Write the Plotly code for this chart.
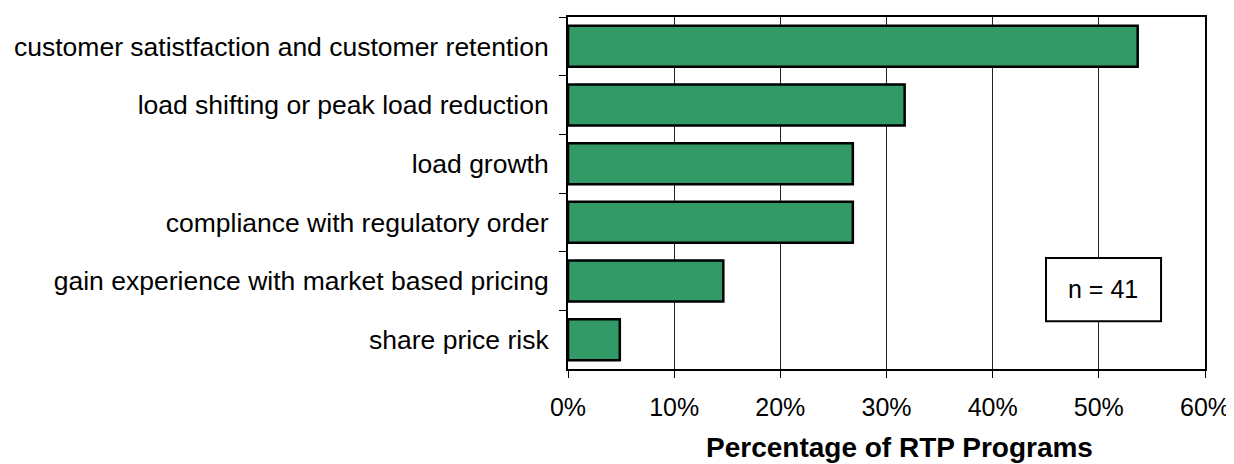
import plotly.graph_objects as go

categories = [
    "customer satistfaction and customer retention",
    "load shifting or peak load reduction",
    "load growth",
    "compliance with regulatory order",
    "gain experience with market based pricing",
    "share price risk",
]
percent_values = [53.66, 31.71, 26.83, 26.83, 14.63, 4.88]
x_tick_values = [0, 10, 20, 30, 40, 50, 60]
x_tick_labels = ["0%", "10%", "20%", "30%", "40%", "50%", "60%"]
axis_title = "Percentage of RTP Programs"
note_text = "n = 41"

FONT = "Liberation Sans, Arial, sans-serif"

fig = go.Figure()
fig.add_trace(go.Bar(
    x=percent_values,
    y=categories,
    orientation="h",
    marker=dict(color="#339966", line=dict(color="black", width=2.5)),
    showlegend=False,
))

# page body has an 8px margin; size the figure so it ends at the window edge
fig.update_layout(
    width=1226, height=456,
    margin=dict(l=560, r=29, t=9, b=95),
    paper_bgcolor="white", plot_bgcolor="white",
    bargap=0.3,
    font=dict(family=FONT, size=25, color="black"),
)

fig.update_xaxes(
    range=[0, 60],
    tickvals=x_tick_values, ticktext=x_tick_labels,
    showgrid=True, gridcolor="#222", gridwidth=1,
    showline=True, linecolor="black", linewidth=2, mirror=True,
    ticks="outside", ticklen=7, tickcolor="black", tickwidth=1,
    ticklabelstandoff=8,
    zeroline=False, automargin=False,
    tickfont=dict(size=25),
)
fig.update_yaxes(
    categoryorder="array", categoryarray=categories,
    autorange="reversed",
    tickson="boundaries",
    showgrid=False,
    showline=True, linecolor="black", linewidth=2, mirror=True,
    ticks="outside", ticklen=7, tickcolor="black", tickwidth=1,
    ticklabelstandoff=12, automargin=False,
    tickfont=dict(size=26.5),
)

# n = 41 box
fig.add_shape(type="rect", xref="paper", yref="paper",
              x0=0.7504, x1=0.931, y0=0.136, y1=0.315,
              line=dict(color="black", width=2), fillcolor="white", layer="above")
fig.add_annotation(text=note_text, xref="paper", yref="paper",
                   x=0.8406, y=0.2259, xanchor="center", yanchor="middle",
                   showarrow=False, font=dict(size=25))

# axis title
fig.add_annotation(text="<b>" + axis_title + "</b>", xref="paper", yref="paper",
                   x=0.521, y=-0.222, xanchor="center", yanchor="middle",
                   showarrow=False, font=dict(size=28))

fig.write_html("out.html")
